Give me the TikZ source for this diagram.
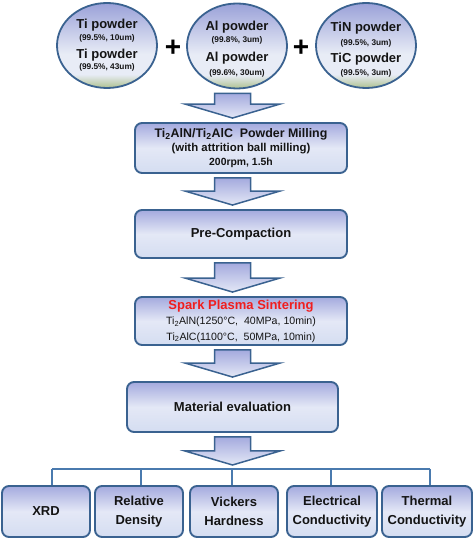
\documentclass[tikz,border=0pt]{standalone}
\usepackage{fontspec}
\setmainfont{Liberation Sans}
\usetikzlibrary{calc,shapes.geometric}
\definecolor{edgeblue}{HTML}{3A6290}
\definecolor{busblue}{HTML}{4A7AAE}
\definecolor{boxtop}{HTML}{A4AADE}
\definecolor{boxmid}{HTML}{E4E8F6}
\definecolor{boxbot}{HTML}{D4DDF1}
\definecolor{elltop}{HTML}{9AA1D8}
\definecolor{ellmid}{HTML}{E8ECF6}
\definecolor{ellbot}{HTML}{AEC190}
\definecolor{spsfill}{HTML}{E8A3A3}
\definecolor{spsred}{HTML}{F01E1E}
\definecolor{inktext}{HTML}{141414}
\pgfdeclareverticalshading{powdershade}{100bp}{color(0bp)=(ellbot); color(25bp)=(ellbot);
    color(33bp)=(ellmid); color(45bp)=(ellmid); color(75bp)=(elltop); color(100bp)=(elltop)}
\tikzset{
    powder/.style={ellipse, draw=edgeblue, line width=1.8pt, minimum width=100pt, minimum height=85pt,
        inner sep=0pt, shading=powdershade},
    powdertext/.style={inner sep=0pt, align=center, text=inktext, font=\bfseries\fontsize{13}{13}\selectfont},
    plus/.style={inner sep=0pt, font=\bfseries\fontsize{28}{28}\selectfont},
    stepbox/.style={rectangle, rounded corners=7pt, draw=edgeblue, line width=1.9pt,
        minimum width=212pt, minimum height=49pt, inner sep=0pt,
        top color=boxtop, bottom color=boxbot, middle color=boxmid,
        align=center, text=inktext, font=\bfseries\fontsize{13}{14}\selectfont},
    spsbox/.style={stepbox, fill=spsfill, font=\fontsize{10.6}{15.5}\selectfont},
    testbox/.style={stepbox, minimum width=89pt, minimum height=51pt, font=\bfseries\fontsize{13}{18.5}\selectfont},
    blockarrow/.style={draw=edgeblue, line width=1.5pt, top color=boxtop, bottom color=boxmid},
    busline/.style={draw=busblue, line width=1.8pt}
}
\newcommand{\purity}{\fontsize{8.3}{9}\selectfont}
\newcommand{\flowarrow}[2]{%
    \draw[blockarrow] let \p1=(#1), \p2=(#2) in
        (214.5pt,\y1-4pt) -- (250.5pt,\y1-4pt) -- (250.5pt,\y2+18pt) -- (280pt,\y2+18pt)
        -- (232.5pt,\y2+4pt) -- (185pt,\y2+18pt) -- (214.5pt,\y2+18pt) -- cycle;}

\begin{document}
\begin{tikzpicture}[x=1pt, y=1pt]
    \useasboundingbox (0,0) rectangle (473,538);

    \node[powder] (ti) at (107,492.5) {};
    \node[powder] (al) at (237,492) {};
    \node[powder] (tin) at (366,492.5) {};
    \node[powdertext] (titext) at ($(ti)+(0,0)$)
        {Ti powder\\[-1.5pt]{\purity(99.5\%, 10um)}\\[5pt]Ti powder\\[-1.5pt]{\purity(99.5\%, 43um)}};
    \node[powdertext] (altext) at ($(al)+(0,-3)$)
        {Al powder\\[-0.7pt]{\purity(99.8\%, 3um)}\\[5.7pt]Al powder\\[1.3pt]{\purity(99.6\%, 30um)}};
    \node[powdertext] (tintext) at ($(tin)+(0,-4.3)$)
        {TiN powder\\[0.6pt]{\purity(99.5\%, 3um)}\\[4.4pt]TiC powder\\[-0.6pt]{\purity(99.5\%, 3um)}};
    \node[plus] (p1) at (173,490) {+};
    \node[plus] (p2) at (301,490) {+};

    \node[stepbox, minimum height=50pt] (mill) at (241,390)
        {\fontsize{12.4}{14}\selectfont Ti\textsubscript{2}AlN/Ti\textsubscript{2}AlC~ Powder Milling\\
         {\fontsize{11.4}{14}\selectfont (with attrition ball milling)}\\
         {\fontsize{10.4}{14}\selectfont 200rpm, 1.5h}};
    \node[stepbox, minimum height=48pt] (pre) at (241,304) {Pre-Compaction};
    \node[spsbox, minimum height=48pt] (sps) at (241,217)
        {{\bfseries\fontsize{13}{15.5}\selectfont\color{spsred}Spark Plasma Sintering}\\
         Ti\textsubscript{2}AlN(1250°C,~ 40MPa, 10min)\\
         Ti\textsubscript{2}AlC(1100°C,~ 50MPa, 10min)};
    \node[stepbox, minimum width=211pt, minimum height=50pt] (eval) at (232.5,131) {Material evaluation};

    \node[testbox, minimum width=88pt] (xrd) at (46,26.5) {XRD};
    \node[testbox, minimum width=88pt] (rel) at (139,26.5) {Relative\\Density};
    \node[testbox, minimum width=88pt] (vick) at (234,26.5) {Vickers\\Hardness};
    \node[testbox, minimum width=90pt] (elec) at (332,26.5) {Electrical\\Conductivity};
    \node[testbox, minimum width=90pt] (therm) at (427,26.5) {Thermal\\Conductivity};

    \flowarrow{al.south}{mill.north}
    \flowarrow{mill.south}{pre.north}
    \flowarrow{pre.south}{sps.north}
    \flowarrow{sps.south}{eval.north}

    \coordinate (busL) at (52,69);
    \coordinate (busR) at (430,69);
    \flowarrow{eval.south}{busL}
    \draw[busline] (busL) -- (busR);
    \foreach \t/\x in {xrd/52, rel/141, vick/232, elec/331, therm/430}
        \draw[busline] (\x,69) -- (\x,0 |- \t.north);
\end{tikzpicture}
\end{document}
